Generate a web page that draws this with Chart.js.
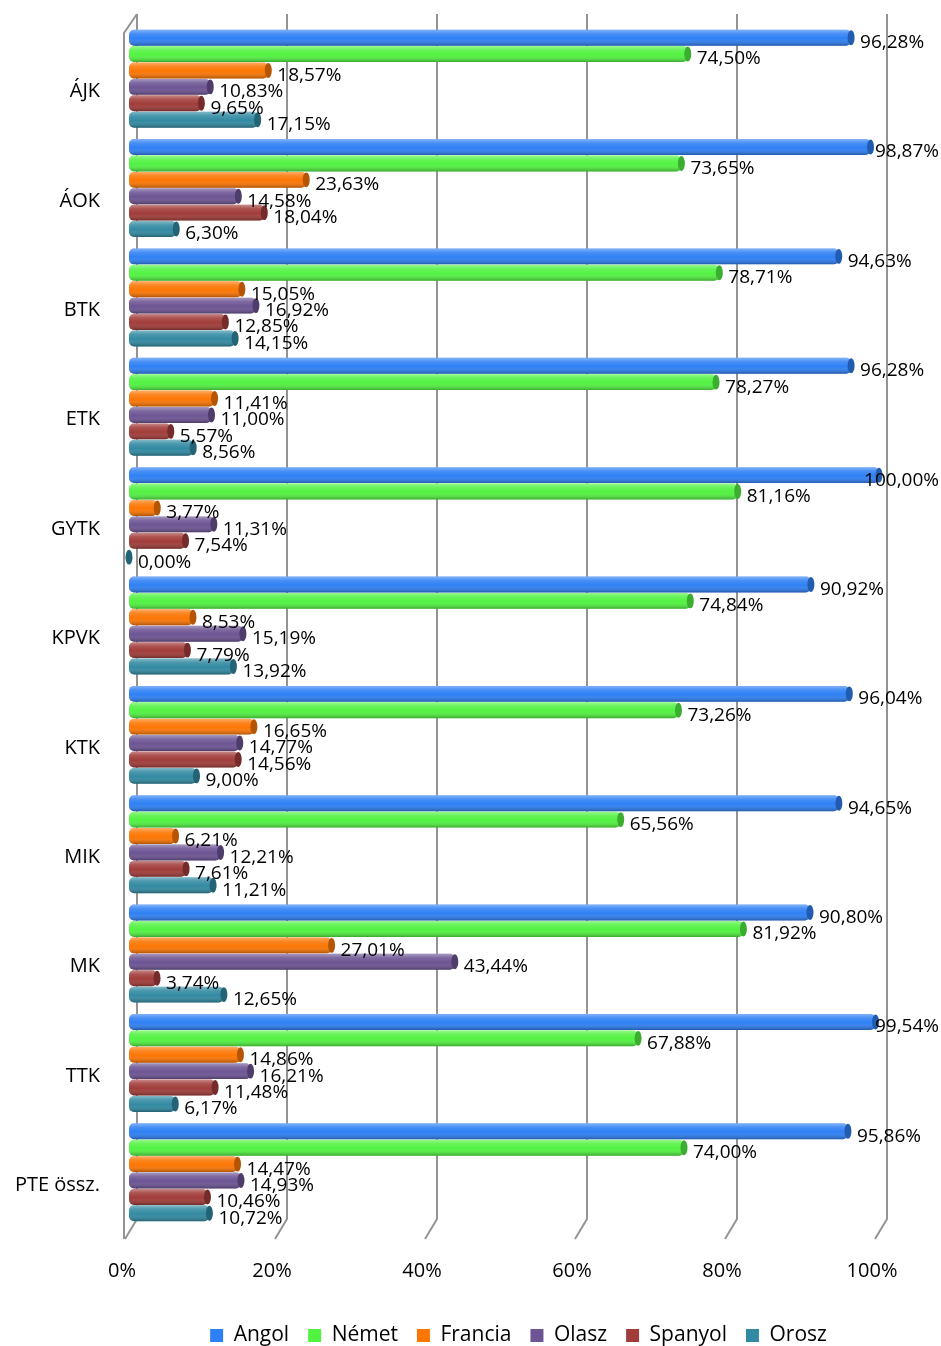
<!DOCTYPE html>
<html>
<head>
<meta charset="utf-8">
<script src="https://cdn.jsdelivr.net/npm/chart.js@4.4.0/dist/chart.umd.min.js"></script>
<style>
  html, body { margin: 0; padding: 0; background: #fff; }
  #wrap { width: 941px; height: 1346px; }
</style>
</head>
<body>
<div id="wrap"><canvas id="barChart"></canvas></div>
<script>
// kategóriák (karok)
const kategoriak = ['ÁJK', 'ÁOK', 'BTK', 'ETK', 'GYTK', 'KPVK', 'KTK', 'MIK', 'MK', 'TTK', 'PTE össz.'];

// nyelvek szerinti értékek (%)
const angol   = [96.28, 98.87, 94.63, 96.28, 100.00, 90.92, 96.04, 94.65, 90.80, 99.54, 95.86];
const nemet   = [74.50, 73.65, 78.71, 78.27, 81.16, 74.84, 73.26, 65.56, 81.92, 67.88, 74.00];
const francia = [18.57, 23.63, 15.05, 11.41, 3.77, 8.53, 16.65, 6.21, 27.01, 14.86, 14.47];
const olasz   = [10.83, 14.58, 16.92, 11.00, 11.31, 15.19, 14.77, 12.21, 43.44, 16.21, 14.93];
const spanyol = [9.65, 18.04, 12.85, 5.57, 7.54, 7.79, 14.56, 7.61, 3.74, 11.48, 10.46];
const orosz   = [17.15, 6.30, 14.15, 8.56, 0.00, 13.92, 9.00, 11.21, 12.65, 6.17, 10.72];

const xTicks = [0, 20, 40, 60, 80, 100];

const szinek = ['#2f80f4', '#52f242', '#fc7604', '#6d5494', '#a13c39', '#328aa2'];

function sotetit(hex, f) {
  const n = parseInt(hex.slice(1), 16);
  const r = Math.round(((n >> 16) & 255) * f);
  const g = Math.round(((n >> 8) & 255) * f);
  const b = Math.round((n & 255) * f);
  return `rgb(${r},${g},${b})`;
}

const szazalek = v => v.toFixed(2).replace('.', ',') + '%';

// 3D-s rácsvonalak és bal fal
const racs3d = {
  id: 'racs3d',
  beforeDatasetsDraw(chart) {
    const { ctx, chartArea, scales: { x } } = chart;
    ctx.save();
    ctx.strokeStyle = '#939393';
    ctx.lineWidth = 2;
    xTicks.forEach(v => {
      const px = x.getPixelForValue(v);
      ctx.beginPath();
      ctx.moveTo(px + 8, chartArea.top - 10);
      ctx.lineTo(px + 8, chartArea.bottom - 8);
      ctx.lineTo(px - 4, chartArea.bottom + 12);
      ctx.stroke();
    });
    const p0 = x.getPixelForValue(0);
    ctx.beginPath();
    ctx.moveTo(p0 + 8, chartArea.top - 10);
    ctx.lineTo(p0 - 5, chartArea.top + 9);
    ctx.lineTo(p0 - 5, chartArea.bottom + 12);
    ctx.stroke();
    ctx.restore();
  }
};

// henger hatás + értékcímkék
const henger = {
  id: 'henger',
  afterDatasetsDraw(chart) {
    const ctx = chart.ctx;
    ctx.save();
    chart.data.datasets.forEach((ds, i) => {
      const meta = chart.getDatasetMeta(i);
      meta.data.forEach(el => {
        const { x, y, base, height } = el.getProps(['x', 'y', 'base', 'height'], true);
        const top = y - height / 2;
        const g = ctx.createLinearGradient(0, top, 0, top + height);
        g.addColorStop(0, 'rgba(255,255,255,0.4)');
        g.addColorStop(0.25, 'rgba(255,255,255,0.12)');
        g.addColorStop(0.55, 'rgba(255,255,255,0)');
        g.addColorStop(1, 'rgba(0,0,0,0.3)');
        ctx.fillStyle = g;
        ctx.beginPath();
        ctx.roundRect(base, top, Math.max(x - base, 0), height, 5);
        ctx.fill();
        // bar vége
        ctx.fillStyle = sotetit(ds.backgroundColor, 0.72);
        ctx.beginPath();
        ctx.ellipse(x, y, 3.5, height / 2 - 0.5, 0, 0, Math.PI * 2);
        ctx.fill();
      });
    });
    ctx.fillStyle = '#000';
    ctx.font = '19px "Open Sans"';
    ctx.textAlign = 'left';
    ctx.textBaseline = 'middle';
    chart.data.datasets.forEach((ds, i) => {
      const meta = chart.getDatasetMeta(i);
      meta.data.forEach((el, j) => {
        const { x, y } = el.getProps(['x', 'y'], true);
        const txt = szazalek(ds.data[j]);
        const w = ctx.measureText(txt).width;
        ctx.fillText(txt, Math.min(x + 9, chart.width - 2 - w), y + 5);
      });
    });
    ctx.restore();
  }
};

// jelmagyarázat jobbra tolása
const legendEltolas = {
  id: 'legendEltolas',
  afterLayout(chart) {
    chart.legend.left += 79;
    chart.legend.right += 79;
  }
};

const adatsorok = [
  ['Angol', angol], ['Német', nemet], ['Francia', francia],
  ['Olasz', olasz], ['Spanyol', spanyol], ['Orosz', orosz]
];

new Chart(document.getElementById('barChart'), {
  type: 'bar',
  data: {
    labels: kategoriak,
    datasets: adatsorok.map(([nev, ertekek], i) => ({
      label: nev,
      data: ertekek,
      backgroundColor: szinek[i],
      borderWidth: 0,
      borderRadius: 5,
      borderSkipped: false,
      barPercentage: 0.97,
      categoryPercentage: 0.9
    }))
  },
  options: {
    indexAxis: 'y',
    responsive: true,
    maintainAspectRatio: false,
    animation: false,
    layout: { padding: { top: 24, right: 62, left: 0, bottom: -10 } },
    plugins: {
      legend: {
        position: 'bottom',
        labels: {
          boxWidth: 13,
          boxHeight: 13,
          padding: 19,
          color: '#000',
          font: { family: 'Open Sans', size: 21 }
        }
      },
      tooltip: { enabled: false }
    },
    scales: {
      x: {
        min: 0,
        max: 100,
        grid: { display: false },
        border: { display: false },
        ticks: {
          stepSize: 20,
          padding: 24,
          labelOffset: -7,
          color: '#000',
          font: { family: 'Open Sans', size: 20 },
          callback: v => v + '%'
        },
        afterFit: s => { s.height = 79; }
      },
      y: {
        grid: { display: false },
        border: { display: false },
        ticks: {
          padding: 21,
          labelOffset: 13,
          color: '#000',
          font: { family: 'Open Sans', size: 20 }
        },
        afterFit: s => {
          s.width = 129;
          s.paddingTop = 0;
          s.paddingBottom = 0;
        }
      }
    }
  },
  plugins: [racs3d, henger, legendEltolas]
});
</script>
</body>
</html>
